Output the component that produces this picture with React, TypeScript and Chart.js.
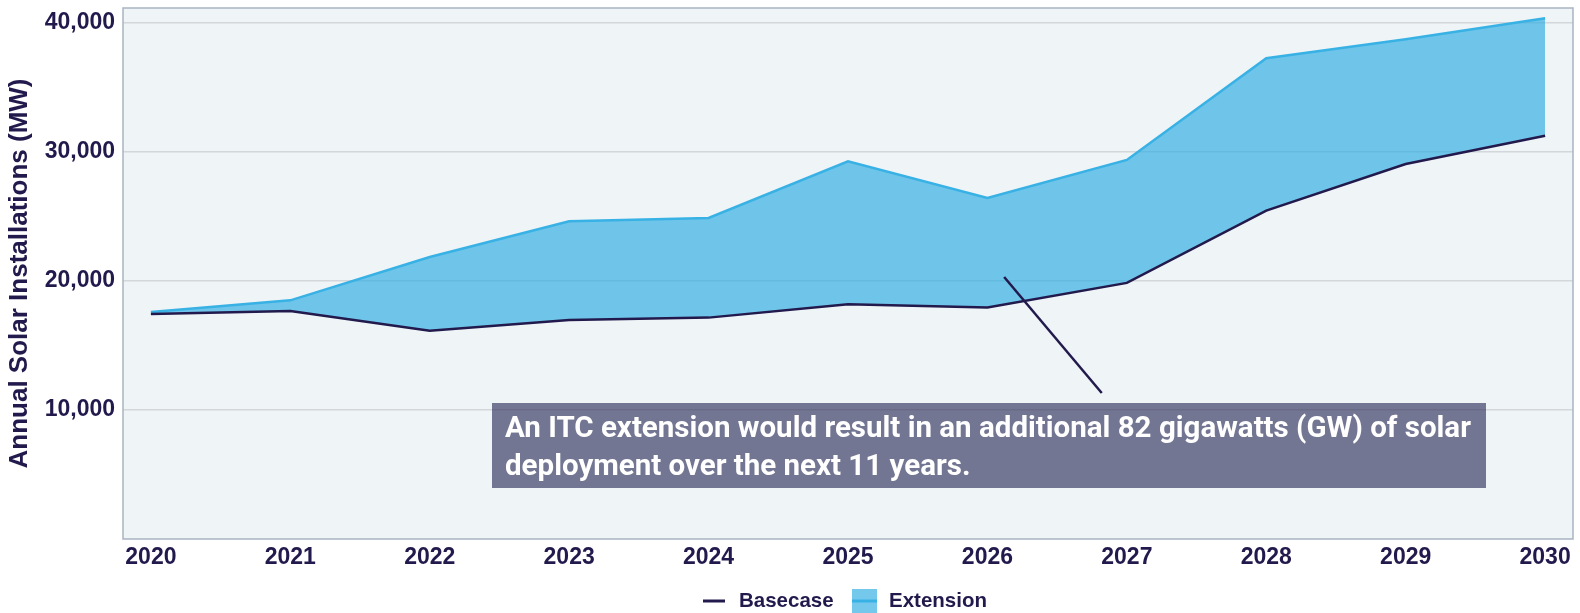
import React, { useEffect, useRef } from "react";
import { Chart, registerables } from "chart.js";

Chart.register(...registerables);

const years = [2020, 2021, 2022, 2023, 2024, 2025, 2026, 2027, 2028, 2029, 2030];
const basecase = [17450, 17680, 16150, 16980, 17160, 18190, 17950, 19850, 25450, 29070, 31260];
const extension = [17600, 18500, 21860, 24630, 24880, 29280, 26440, 29380, 37260, 38740, 40360];
const yTicks = [10000, 20000, 30000, 40000];
const yTitle = "Annual Solar Installations (MW)";
const legendLabels = ["Basecase", "Extension"];
const noteLines = [
  "An ITC extension would result in an additional 82 gigawatts (GW) of solar",
  "deployment over the next 11 years.",
];

const NAVY = "#221a4c";
const BLUE_LINE = "#38b1e5";
const BLUE_FILL = "rgba(41,171,226,0.65)";
const PLOT_BG = "#eff4f7";
const BORDER = "#a9b4c1";

export default function App() {
  const ref = useRef<HTMLCanvasElement | null>(null);

  useEffect(() => {
    document.body.style.margin = "0";
    const canvas = ref.current;
    if (!canvas) return;

    const decor = {
      id: "decor",
      beforeDraw(chart: any) {
        const { ctx, chartArea: a } = chart;
        ctx.save();
        ctx.fillStyle = PLOT_BG;
        ctx.fillRect(a.left, a.top, a.right - a.left, a.bottom - a.top);
        ctx.restore();
      },
      afterDraw(chart: any) {
        const { ctx, chartArea: a, scales } = chart;
        ctx.save();
        // plot border
        ctx.strokeStyle = BORDER;
        ctx.lineWidth = 1.5;
        ctx.strokeRect(a.left, a.top, a.right - a.left, a.bottom - a.top);

        // annotation pointer
        const xs = scales.x;
        const ys = scales.y;
        ctx.strokeStyle = NAVY;
        ctx.lineWidth = 2.5;
        ctx.beginPath();
        ctx.moveTo(xs.getPixelForValue(2026.12), ys.getPixelForValue(20310));
        ctx.lineTo(xs.getPixelForValue(2026.82), ys.getPixelForValue(11320));
        ctx.stroke();

        // annotation box
        const bx = 492;
        const by = 403;
        const bw = 994;
        const bh = 85;
        ctx.fillStyle = "rgba(38,40,84,0.62)";
        ctx.fillRect(bx, by, bw, bh);
        ctx.fillStyle = "#ffffff";
        ctx.font = "bold 29.5px Roboto";
        ctx.textBaseline = "alphabetic";
        ctx.textAlign = "left";
        ctx.fillText(noteLines[0], 505, 437);
        ctx.fillText(noteLines[1], 505, 475);

        // legend
        const ly = 601;
        ctx.strokeStyle = NAVY;
        ctx.lineWidth = 3;
        ctx.beginPath();
        ctx.moveTo(703, ly);
        ctx.lineTo(725, ly);
        ctx.stroke();
        ctx.fillStyle = NAVY;
        ctx.font = "bold 20.5px 'Liberation Sans'";
        ctx.textBaseline = "middle";
        ctx.fillText(legendLabels[0], 739, ly);

        ctx.fillStyle = BLUE_FILL;
        ctx.fillRect(852, 589, 25, 24);
        ctx.strokeStyle = BLUE_LINE;
        ctx.lineWidth = 3;
        ctx.beginPath();
        ctx.moveTo(852, ly);
        ctx.lineTo(877, ly);
        ctx.stroke();
        ctx.fillStyle = NAVY;
        ctx.fillText(legendLabels[1], 889, ly);
        ctx.restore();
      },
    };

    const chart = new Chart(canvas, {
      type: "line",
      data: {
        datasets: [
          {
            label: legendLabels[0],
            data: years.map((y, i) => ({ x: y, y: basecase[i] })),
            borderColor: NAVY,
            borderWidth: 2.5,
            pointRadius: 0,
            fill: false,
            tension: 0,
          },
          {
            label: legendLabels[1],
            data: years.map((y, i) => ({ x: y, y: extension[i] })),
            borderColor: BLUE_LINE,
            backgroundColor: BLUE_FILL,
            borderWidth: 2.5,
            pointRadius: 0,
            fill: 0,
            tension: 0,
          },
        ],
      },
      plugins: [decor],
      options: {
        animation: false,
        responsive: true,
        maintainAspectRatio: false,
        layout: { padding: { left: 0, top: 8, right: 7, bottom: 0 } },
        plugins: {
          legend: { display: false },
          tooltip: { enabled: false },
        },
        scales: {
          x: {
            type: "linear",
            min: 2019.8,
            max: 2030.2,
            afterBuildTicks: (s: any) => {
              s.ticks = years.map((v) => ({ value: v }));
            },
            afterFit: (s: any) => {
              s.height = 74;
              s.paddingLeft = 0;
              s.paddingRight = 0;
            },
            grid: { display: false, drawTicks: false },
            border: { display: false },
            ticks: {
              padding: 5,
              color: NAVY,
              font: { family: "'Liberation Sans'", size: 23, weight: "bold" },
              callback: (v: any) => String(v),
              maxRotation: 0,
              autoSkip: false,
            },
          },
          y: {
            min: 0,
            max: 41160,
            afterBuildTicks: (s: any) => {
              s.ticks = yTicks.map((v) => ({ value: v }));
            },
            afterFit: (s: any) => {
              s.width = 123;
              s.paddingTop = 0;
              s.paddingBottom = 0;
            },
            grid: { color: "#d3d6da", lineWidth: 1.5, drawTicks: false },
            border: { display: false },
            title: {
              display: true,
              text: yTitle,
              color: NAVY,
              font: { family: "'Liberation Sans'", size: 26, weight: "bold" },
              padding: { top: 4, bottom: 0 },
            },
            ticks: {
              padding: 8,
              color: NAVY,
              font: { family: "'Liberation Sans'", size: 23, weight: "bold" },
              callback: (v: any) => Number(v).toLocaleString("en-US"),
            },
          },
        },
      },
    } as any);

    return () => chart.destroy();
  }, []);

  return (
    <div style={{ width: 1580, height: 613, position: "relative" }}>
      <canvas ref={ref} />
    </div>
  );
}
